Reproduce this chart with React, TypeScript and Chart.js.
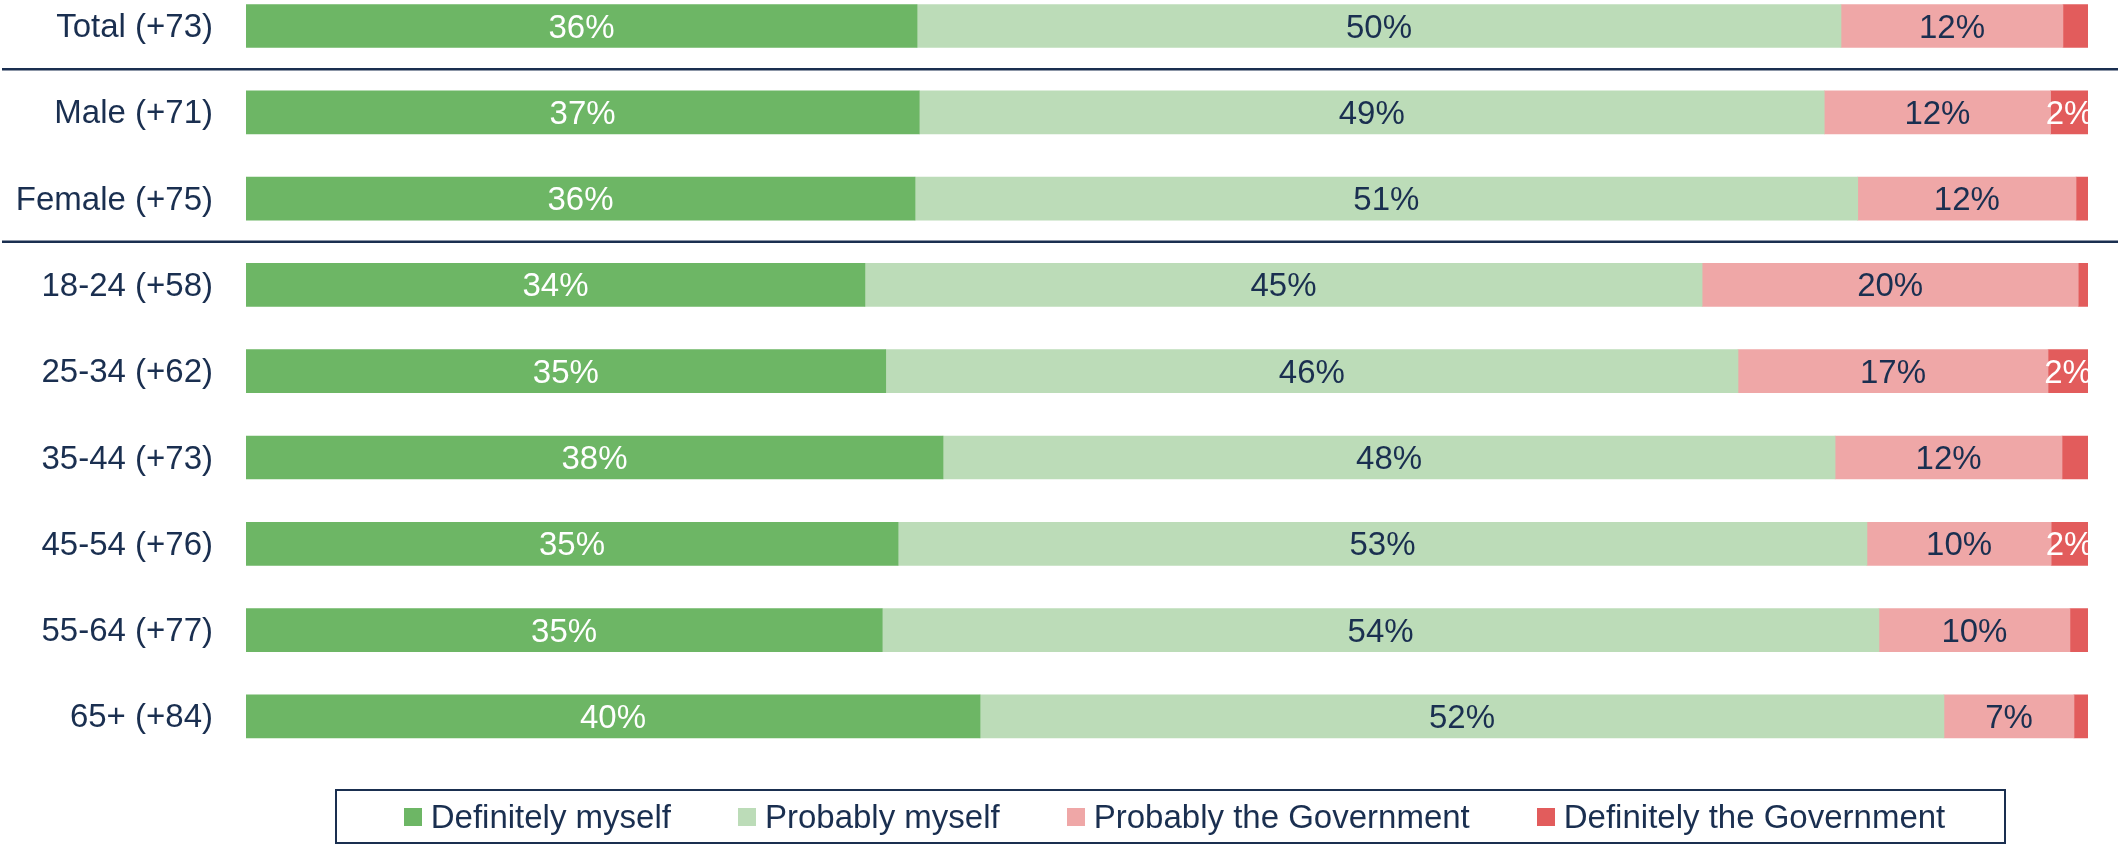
import React, { useEffect, useRef } from "react";
import { Chart, registerables } from "chart.js";

Chart.register(...registerables);

const FONT = "'Liberation Sans', Arial, Helvetica, sans-serif";
const NAVY = "#1a2f50";

const categories = [
  "Total (+73)",
  "Male (+71)",
  "Female (+75)",
  "18-24 (+58)",
  "25-34 (+62)",
  "35-44 (+73)",
  "45-54 (+76)",
  "55-64 (+77)",
  "65+ (+84)",
];

const definitelyMyself = [36.43, 36.55, 36.32, 33.6, 34.73, 37.84, 35.4, 34.54, 39.85];
const probablyMyself = [50.16, 49.13, 51.18, 45.45, 46.27, 48.43, 52.6, 54.11, 52.33];
const probablyGovernment = [12.05, 12.29, 11.85, 20.42, 16.83, 12.32, 10.0, 10.37, 7.06];
const definitelyGovernment = [1.36, 2.06, 0.65, 0.53, 2.17, 1.41, 2.0, 0.98, 0.76];

const seriesNames = [
  "Definitely myself",
  "Probably myself",
  "Probably the Government",
  "Definitely the Government",
];
const seriesColors = ["#6db665", "#bcdcb8", "#efa7a7", "#e25c5c"];
const labelColors = ["#ffffff", NAVY, NAVY, "#ffffff"];
const separatorsAfter = [0, 2];

const valueLabels = {
  id: "valueLabels",
  afterDatasetsDraw(chart: any) {
    const { ctx, chartArea } = chart;
    ctx.save();
    ctx.beginPath();
    ctx.rect(chartArea.left, chartArea.top, chartArea.right - chartArea.left, chartArea.bottom - chartArea.top);
    ctx.clip();
    ctx.font = `33px ${FONT}`;
    ctx.textAlign = "center";
    ctx.textBaseline = "middle";
    chart.data.datasets.forEach((ds: any, di: number) => {
      const meta = chart.getDatasetMeta(di);
      meta.data.forEach((bar: any, i: number) => {
        const v = ds.data[i] as number;
        const r = Math.round(v);
        if (r < 2) return;
        const { x, base, y } = bar.getProps(["x", "base", "y"], true);
        ctx.fillStyle = labelColors[di];
        ctx.fillText(r + "%", (x + base) / 2, y + 2.5);
      });
    });
    ctx.restore();
  },
};

const separators = {
  id: "separators",
  afterDraw(chart: any) {
    const { ctx } = chart;
    const ys = chart.scales.y;
    ctx.save();
    ctx.strokeStyle = NAVY;
    ctx.lineWidth = 2.5;
    separatorsAfter.forEach((i) => {
      const py = (ys.getPixelForValue(i) + ys.getPixelForValue(i + 1)) / 2;
      ctx.beginPath();
      ctx.moveTo(2, py);
      ctx.lineTo(chart.width, py);
      ctx.stroke();
    });
    ctx.restore();
  },
};

export default function App() {
  const canvasRef = useRef<HTMLCanvasElement | null>(null);

  useEffect(() => {
    if (!canvasRef.current) return;
    const seriesData = [definitelyMyself, probablyMyself, probablyGovernment, definitelyGovernment];
    const chart = new Chart(canvasRef.current, {
      type: "bar",
      data: {
        labels: categories,
        datasets: seriesNames.map((name, i) => ({
          label: name,
          data: seriesData[i],
          backgroundColor: seriesColors[i],
          borderWidth: 0,
          barThickness: 43,
        })),
      },
      options: {
        indexAxis: "y",
        responsive: false,
        animation: false,
        layout: { padding: { top: 22.85, bottom: 85.45, left: 0, right: 30 } },
        plugins: {
          legend: { display: false },
          tooltip: { enabled: false },
          title: { display: false },
        },
        scales: {
          x: { stacked: true, min: 0, max: 100, display: false },
          y: {
            stacked: true,
            grid: { display: false, drawTicks: false },
            border: { display: false },
            ticks: { color: NAVY, font: { family: FONT, size: 33 }, padding: 33, labelOffset: 2 },
            afterFit(scale: any) {
              scale.width = 246;
              scale.paddingTop = 0;
              scale.paddingBottom = 0;
            },
          },
        },
      } as any,
      plugins: [valueLabels, separators],
    });
    return () => chart.destroy();
  }, []);

  return (
    <div style={{ position: "absolute", left: 0, top: 0, width: 2118, height: 845, overflow: "hidden", background: "#fff" }}>
      <div style={{ position: "absolute", left: 0, top: -40, width: 2118, height: 885 }}>
        <canvas ref={canvasRef} width={2118} height={885} style={{ width: 2118, height: 885, display: "block" }} />
      </div>
      <div
        style={{
          position: "absolute",
          left: 335,
          top: 789,
          width: 1671,
          height: 55,
          boxSizing: "border-box",
          border: `2px solid ${NAVY}`,
          display: "flex",
          alignItems: "center",
          justifyContent: "center",
          gap: 67,
          paddingLeft: 8,
          fontFamily: FONT,
          fontSize: 33,
          lineHeight: 1,
          color: NAVY,
        }}
      >
        {seriesNames.map((n, i) => (
          <div key={n} style={{ display: "flex", alignItems: "center" }}>
            <span style={{ display: "inline-block", width: 18, height: 18, background: seriesColors[i], marginRight: 9 }} />
            <span>{n}</span>
          </div>
        ))}
      </div>
    </div>
  );
}
